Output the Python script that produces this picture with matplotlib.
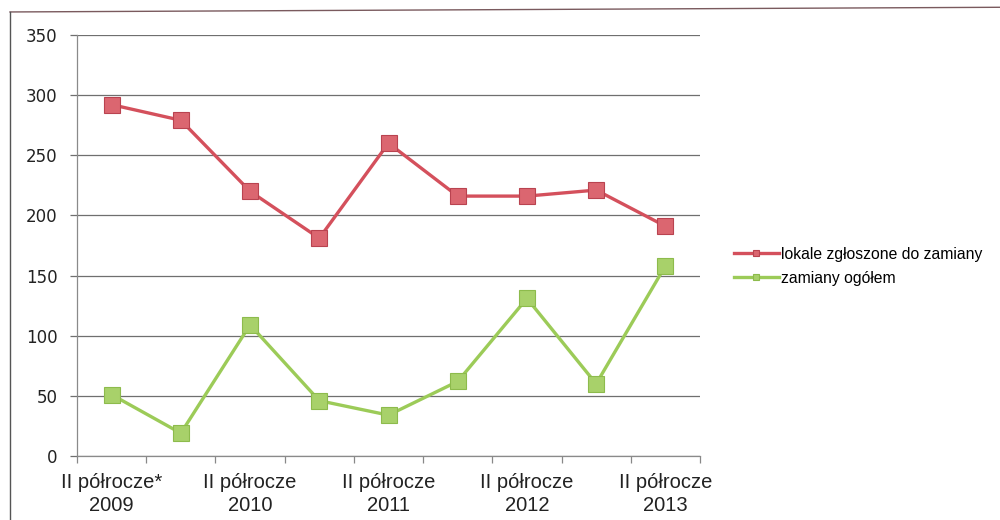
import matplotlib
matplotlib.use("Agg")
import matplotlib.pyplot as plt
from matplotlib.lines import Line2D
import numpy as np

periods = ["II półrocze*\n2009", "", "II półrocze\n2010", "", "II półrocze\n2011", "",
           "II półrocze\n2012", "", "II półrocze\n2013"]
lokale = [292, 279, 220, 181, 260, 216, 216, 221, 191]
zamiany = [51, 19, 109, 46, 34, 62, 131, 60, 158]
series_names = ["lokale zgłoszone do zamiany", "zamiany ogółem"]
y_ticks = [0, 50, 100, 150, 200, 250, 300, 350]

plt.rcParams["font.family"] = ["Liberation Sans", "DejaVu Sans"]

fig = plt.figure(figsize=(10, 5.2), dpi=100)
ax = fig.add_axes([0.077, 0.123, 0.623, 0.810])

x = np.arange(len(lokale))
ax.plot(x, lokale, color="#D4505C", lw=2.4, marker="s", ms=11,
        mfc="#DB6670", mec="#B94350", mew=0.8, label=series_names[0], zorder=3)
ax.plot(x, zamiany, color="#9CCB58", lw=2.4, marker="s", ms=11,
        mfc="#A8D16A", mec="#8DBB4C", mew=0.8, label=series_names[1], zorder=3)

ax.set_xlim(-0.5, len(lokale) - 0.5)
ax.set_ylim(0, 350)
ax.set_yticks(y_ticks)
ax.set_yticklabels([str(v) for v in y_ticks], fontsize=12, color="#222222",
                   family="DejaVu Sans")
ax.yaxis.grid(True, color="#6f6f6f", lw=0.9)
ax.set_axisbelow(True)

# category labels centred on points, tick marks on the category boundaries
ax.set_xticks(x)
ax.set_xticklabels(periods, fontsize=14.5, color="#222222", linespacing=1.3)
ax.tick_params(axis="x", length=0, pad=12)
ax.set_xticks(np.arange(-0.5, len(lokale)), minor=True)
ax.tick_params(axis="x", which="minor", length=5, color="#888888", width=0.9)
ax.tick_params(axis="y", length=5, color="#6f6f6f", width=0.9, pad=9)

for s in ["top", "right"]:
    ax.spines[s].set_visible(False)
for s in ["left", "bottom"]:
    ax.spines[s].set_color("#8a8a8a")
    ax.spines[s].set_linewidth(0.9)

fig.legend(loc="center left", bbox_to_anchor=(0.720, 0.488), frameon=False,
           prop={"size": 11.3}, handlelength=2.85, handletextpad=0.15,
           labelspacing=0.6, markerscale=0.45)

# chart frame: top and left edges
fig.add_artist(Line2D([0.010, 1.0], [0.977, 0.986], transform=fig.transFigure,
                      color="#7a5a5e", lw=1.0))
fig.add_artist(Line2D([0.010, 0.010], [0.0, 0.977], transform=fig.transFigure,
                      color="#555555", lw=1.0))

fig.savefig("out.png", dpi=100)
